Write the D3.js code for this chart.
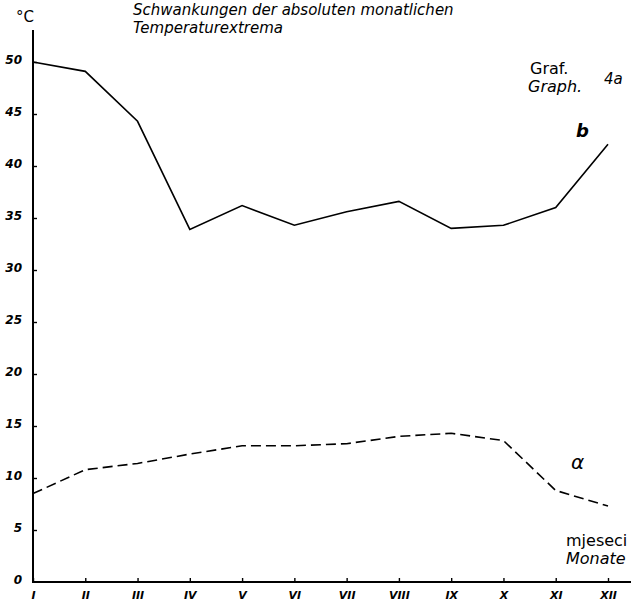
<!DOCTYPE html>
<html>
<head>
<meta charset="utf-8">
<script src="https://cdn.jsdelivr.net/npm/d3@7"></script>
<style>
  body { margin: 0; background: #fff; }
  svg text { font-family: "DejaVu Sans", sans-serif; fill: #000; }
</style>
</head>
<body>
<div id="container"></div>
<script>
const months = ['I', 'II', 'III', 'IV', 'V', 'VI', 'VII', 'VIII', 'IX', 'X', 'XI', 'XII'];
const seriesB = [50.0, 49.1, 44.3, 33.9, 36.2, 34.3, 35.6, 36.6, 34.0, 34.3, 36.0, 42.1];
const seriesA = [8.5, 10.8, 11.4, 12.3, 13.1, 13.1, 13.3, 14.0, 14.3, 13.6, 8.8, 7.3];
const yTicks = [0, 5, 10, 15, 20, 25, 30, 35, 40, 45, 50];

const config = {
    width: 631,
    height: 602,
    axisX: 33,
    xEnd: 608,
    yZero: 582,
    yTop: 62,
}

const svg = d3.select('#container')
    .append('svg')
    .attr('width', config.width)
    .attr('height', config.height)

const xScale = d3.scalePoint()
    .domain(months)
    .range([config.axisX, config.xEnd])

const yScale = d3.scaleLinear()
    .domain([0, 50])
    .range([config.yZero, config.yTop])

// axes
const yAxis = svg.append('g')
    .attr('transform', `translate(${config.axisX},0)`)
    .call(d3.axisLeft(yScale).tickValues(yTicks).tickSize(-4).tickPadding(11))
yAxis.select('.domain').remove()
yAxis.selectAll('.tick line').attr('stroke', '#000').attr('stroke-width', 1.4)
yAxis.selectAll('.tick text')
    .style('font-size', '12px')
    .style('font-style', 'italic')
    .style('font-weight', 'bold')
    .attr('dy', '0.1em')
yAxis.selectAll('.tick').filter(d => d === 0).select('line').remove()

const xAxis = svg.append('g')
    .attr('transform', `translate(0,${config.yZero})`)
    .call(d3.axisBottom(xScale).tickSize(-4).tickPadding(9))
xAxis.select('.domain').remove()
xAxis.selectAll('.tick line').attr('stroke', '#000').attr('stroke-width', 1.4)
xAxis.selectAll('.tick text')
    .style('font-size', '11px')
    .style('font-style', 'italic')
    .style('font-weight', 'bold')

svg.append('line')
    .attr('x1', config.axisX).attr('x2', config.axisX)
    .attr('y1', 30).attr('y2', config.yZero + 1)
    .attr('stroke', '#000').attr('stroke-width', 2)

svg.append('line')
    .attr('x1', config.axisX - 1).attr('x2', config.width)
    .attr('y1', config.yZero).attr('y2', config.yZero)
    .attr('stroke', '#000').attr('stroke-width', 2)

// lines
const line = d3.line()
    .x((d, i) => xScale(months[i]))
    .y(d => yScale(d))

svg.append('path')
    .datum(seriesB)
    .attr('d', line)
    .attr('fill', 'none')
    .attr('stroke', '#000')
    .attr('stroke-width', 1.6)

svg.append('path')
    .datum(seriesA)
    .attr('d', line)
    .attr('fill', 'none')
    .attr('stroke', '#000')
    .attr('stroke-width', 1.6)
    .attr('stroke-dasharray', '10,5')

// texts
svg.append('text')
    .attr('x', 133).attr('y', 15)
    .text('Schwankungen der absoluten monatlichen')
    .style('font-size', '15px')
    .style('font-style', 'italic')

svg.append('text')
    .attr('x', 133).attr('y', 33)
    .text('Temperaturextrema')
    .style('font-size', '15px')
    .style('font-style', 'italic')

svg.append('text')
    .attr('x', 16).attr('y', 22)
    .text('°C')
    .style('font-size', '15px')

svg.append('text')
    .attr('x', 530).attr('y', 74)
    .text('Graf.')
    .style('font-size', '16px')

svg.append('text')
    .attr('x', 528).attr('y', 92)
    .text('Graph.')
    .style('font-size', '16px')
    .style('font-style', 'italic')

svg.append('text')
    .attr('x', 604).attr('y', 84)
    .text('4a')
    .style('font-size', '15px')
    .style('font-style', 'italic')

svg.append('text')
    .attr('x', 576).attr('y', 137)
    .text('b')
    .style('font-size', '18px')
    .style('font-style', 'italic')
    .style('font-weight', 'bold')

svg.append('text')
    .attr('x', 571).attr('y', 469)
    .text('α')
    .style('font-size', '20px')
    .style('font-style', 'italic')

svg.append('text')
    .attr('x', 566).attr('y', 546)
    .text('mjeseci')
    .style('font-size', '16px')

svg.append('text')
    .attr('x', 566).attr('y', 564)
    .text('Monate')
    .style('font-size', '16px')
    .style('font-style', 'italic')
</script>
</body>
</html>
